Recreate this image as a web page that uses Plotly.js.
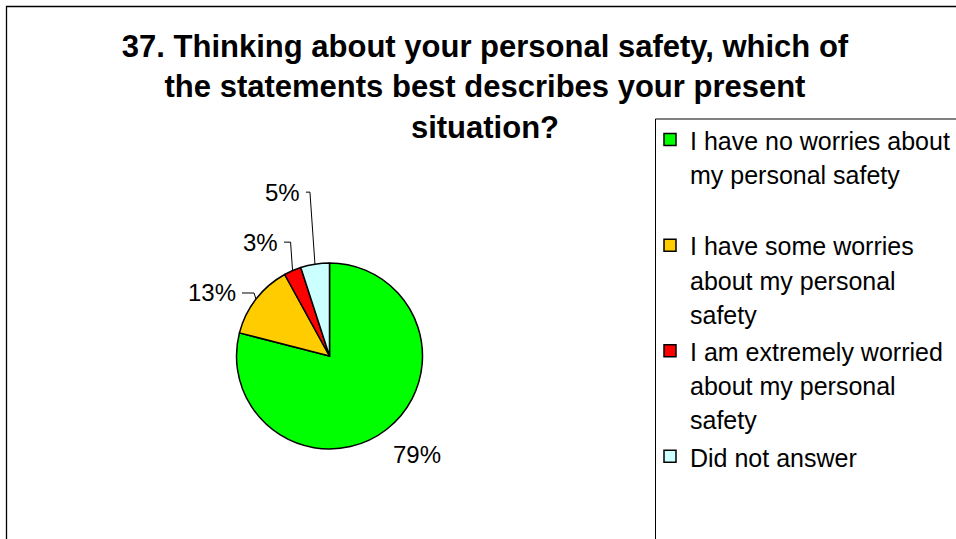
<!DOCTYPE html>
<html>
<head>
<meta charset="utf-8">
<script src="https://cdn.plot.ly/plotly-3.0.1.min.js"></script>
<style>html,body{margin:0;padding:0;background:#fff;}#chart{width:956px;height:539px;}</style>
</head>
<body>
<div id="chart"></div>
<script>
var categories = [
  "I have no worries about<br>my personal safety<br> ",
  "I have some worries<br>about my personal<br>safety",
  "I am extremely worried<br>about my personal<br>safety",
  "Did not answer"
];
var values = [79, 13, 3, 5];
var colors = ["#00FF00", "#FFCC00", "#FF0000", "#CCFFFF"];
var titleText = "37. Thinking about your personal safety, which of<br>the statements best describes your present<br>situation?";

var FONT = "Liberation Sans, Arial, sans-serif";
var W = 956, H = 539;

// pie placement (pixels)
var PIE_L = 236.5, PIE_R = 422.5, PIE_T = 263, PIE_B = 449;
// label placement relative to slice edge midpoint (pixels; x right, y down):
// [dx, dy, leader?, elbow dx] ; for leaders dx is the label's right edge
var labelOffsets = [[30.5, 25.5, false, 0], [-18, -6, true, -2], [-12.5, -28.5, true, -2], [-13, -72, true, -5]];

var legendLabels = categories.map(function (c) {
  return c.split("<br>").map(function (l) {
    return '<span style="font-size:25px">' + l + '</span>';
  }).join("<br>");
});

var trace = {
  type: "pie",
  labels: legendLabels,
  values: values,
  sort: false,
  direction: "clockwise",
  rotation: 0,
  marker: {colors: colors, line: {color: "#000", width: 1.5}},
  textinfo: "none",
  domain: {x: [PIE_L / W, PIE_R / W], y: [(H - PIE_B) / H, (H - PIE_T) / H]},
  hoverinfo: "percent"
};

function fx(p) { return p / W; }
function fy(p) { return 1 - p / H; }

// percentage labels and leader lines placed from the slice angles
var total = values.reduce(function (a, b) { return a + b; }, 0);
var cx = (PIE_L + PIE_R) / 2, cy = (PIE_T + PIE_B) / 2;
var r = Math.min(PIE_R - PIE_L, PIE_B - PIE_T) / 2;
var cum = 0;
var annotations = [], leaderShapes = [];
values.forEach(function (v, i) {
  var mid = (cum + v / 2) / total * 2 * Math.PI;
  cum += v;
  var px = cx + r * Math.sin(mid), py = cy - r * Math.cos(mid);
  var off = labelOffsets[i];
  var txt = Math.round(v / total * 100) + "%";
  if (off[2]) {
    var lx = px + off[0], ly = py + off[1];
    annotations.push({
      text: txt, xref: "paper", yref: "paper", x: fx(lx), y: fy(ly),
      xanchor: "right", yanchor: "middle", showarrow: false,
      font: {family: FONT, size: 24, color: "#000"}
    });
    var ex = px + off[3];
    leaderShapes.push({
      type: "path", xref: "paper", yref: "paper",
      path: "M " + fx(lx + 4) + " " + fy(ly) + " L " + fx(ex) + " " + fy(ly) + " L " + fx(px) + " " + fy(py),
      line: {color: "#000", width: 1}
    });
  } else {
    annotations.push({
      text: txt, xref: "paper", yref: "paper", x: fx(px), y: fy(py),
      xanchor: "center", yanchor: "middle", showarrow: false,
      xshift: off[0], yshift: -off[1],
      font: {family: FONT, size: 24, color: "#000"}
    });
  }
});

var layout = {
  width: W, height: H,
  margin: {l: 0, r: 0, t: 0, b: 0, autoexpand: false},
  paper_bgcolor: "#fff",
  title: {
    text: "<b>" + titleText + "</b>",
    font: {family: FONT, size: 31, color: "#000"},
    x: 485 / W, xanchor: "center", xref: "paper",
    y: 1 - 57 / H, yanchor: "top", yref: "container"
  },
  showlegend: true,
  legend: {
    x: 650 / W, y: 1 - 116 / H, xanchor: "left", yanchor: "top",
    font: {family: FONT, size: 26.3, color: "#000"},
    valign: "top", bgcolor: "rgba(0,0,0,0)", borderwidth: 0
  },
  annotations: annotations,
  shapes: [
    {type: "rect", xref: "paper", yref: "paper", x0: 6.5 / W, x1: 1.02, y0: -0.02, y1: 1 - 6.5 / H,
     line: {color: "#000", width: 1.3}, fillcolor: "rgba(0,0,0,0)"},
    {type: "rect", xref: "paper", yref: "paper", x0: 655.5 / W, x1: 1.02, y0: -0.02, y1: 1 - 119 / H,
     line: {color: "#000", width: 1}, fillcolor: "rgba(0,0,0,0)"}
  ].concat(leaderShapes)
};

Plotly.newPlot("chart", [trace], layout, {displayModeBar: false, staticPlot: true});
</script>
</body>
</html>
